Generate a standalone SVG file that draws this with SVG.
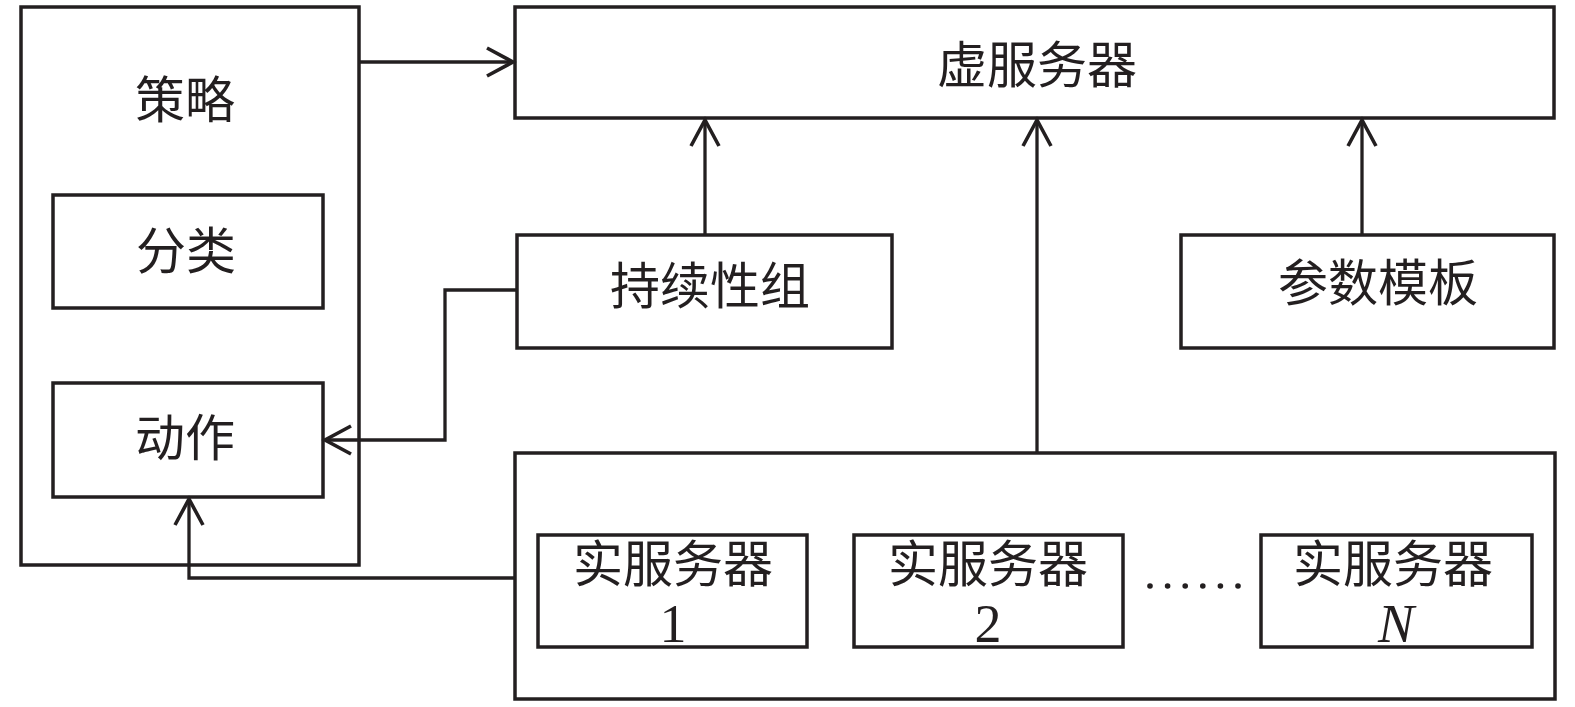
<svg xmlns="http://www.w3.org/2000/svg" width="1575" height="707" viewBox="0 0 1575 707">
<style>
.box{fill:#fff;stroke:#231f20;stroke-width:3.5}
.ln{fill:none;stroke:#231f20;stroke-width:3.3}
.cn{font-family:"Noto Sans CJK SC","Noto Sans CJK JP",sans-serif;font-size:50px;fill:#231f20;text-anchor:middle}
.num{font-family:"Liberation Serif",serif;font-size:54px;fill:#231f20;text-anchor:middle}
.dot{fill:#231f20}
</style>
<defs>
<marker id="arr" markerUnits="userSpaceOnUse" markerWidth="40" markerHeight="40" viewBox="-30 -20 40 40" refX="0" refY="0" orient="auto" overflow="visible">
<path d="M-26,-14 L0,0 L-26,14" fill="none" stroke="#231f20" stroke-width="3.6"/>
</marker>
</defs>
<rect width="1575" height="707" fill="#fff"/>
<g id="policy">
<rect class="box" x="21" y="7" width="338" height="558"/>
<text class="cn" x="185" y="118">策略</text>
</g>
<g id="classify">
<rect class="box" x="53" y="195" width="270" height="113"/>
<text class="cn" x="186" y="269">分类</text>
</g>
<g id="action">
<rect class="box" x="53" y="383" width="270" height="114"/>
<text class="cn" x="185" y="456">动作</text>
</g>
<g id="virtual-server">
<rect class="box" x="515" y="7" width="1039" height="111"/>
<text class="cn" x="1037" y="83">虚服务器</text>
</g>
<g id="persistence-group">
<rect class="box" x="517" y="235" width="375" height="113"/>
<text class="cn" x="710" y="304">持续性组</text>
</g>
<g id="param-template">
<rect class="box" x="1181" y="235" width="373" height="113"/>
<text class="cn" x="1378" y="301">参数模板</text>
</g>
<g id="real-server-pool">
<rect class="box" x="515" y="453" width="1040" height="246"/>
<circle class="dot" cx="1150" cy="586" r="2.8"/>
<circle class="dot" cx="1167.6" cy="586" r="2.8"/>
<circle class="dot" cx="1185.2" cy="586" r="2.8"/>
<circle class="dot" cx="1202.8" cy="586" r="2.8"/>
<circle class="dot" cx="1220.4" cy="586" r="2.8"/>
<circle class="dot" cx="1238" cy="586" r="2.8"/>
</g>
<g id="real-server-1">
<rect class="box" x="538" y="535" width="269" height="112"/>
<text class="cn" x="673" y="582">实服务器</text>
<text class="num" x="673" y="642">1</text>
</g>
<g id="real-server-2">
<rect class="box" x="854" y="535" width="269" height="112"/>
<text class="cn" x="988" y="582">实服务器</text>
<text class="num" x="988" y="642">2</text>
</g>
<g id="real-server-n">
<rect class="box" x="1261" y="535" width="271" height="112"/>
<text class="cn" x="1393" y="582">实服务器</text>
<text class="num" x="1396" y="642" font-style="italic">N</text>
</g>
<g id="connectors">
<path class="ln" d="M359,62 H513" marker-end="url(#arr)"/>
<path class="ln" d="M705,235 V120" marker-end="url(#arr)"/>
<path class="ln" d="M1362,235 V120" marker-end="url(#arr)"/>
<path class="ln" d="M1037,453 V120" marker-end="url(#arr)"/>
<path class="ln" d="M517,290 H445 V440 H325" marker-end="url(#arr)"/>
<path class="ln" d="M515,578 H189 V499" marker-end="url(#arr)"/>
</g>
</svg>
